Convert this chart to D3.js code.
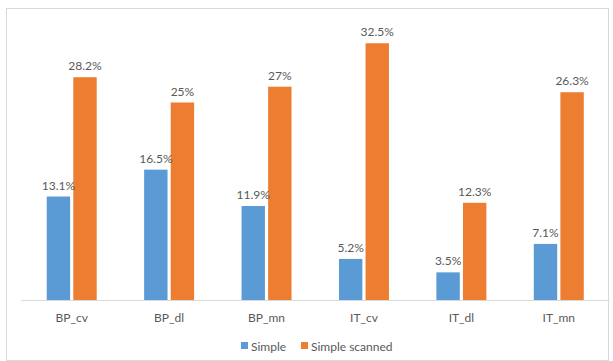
<!DOCTYPE html>
<html>
<head>
<meta charset="utf-8">
<script src="https://cdn.jsdelivr.net/npm/d3@7"></script>
<style>
  html, body { margin: 0; padding: 0; background: #fff; }
  svg { display: block; }
  text { font-family: Lato, "Open Sans", sans-serif; fill: #595959; }
</style>
</head>
<body>
<svg id="chart" width="613" height="361"></svg>
<script>
// Categories and series values (percent)
const categories = ["BP_cv", "BP_dl", "BP_mn", "IT_cv", "IT_dl", "IT_mn"];
const seriesNames = ["Simple", "Simple scanned"];
const simple = [13.1, 16.5, 11.9, 5.2, 3.5, 7.1];
const simpleScanned = [28.2, 25, 27, 32.5, 12.3, 26.3];
const valueLabels = [
  ["13.1%", "16.5%", "11.9%", "5.2%", "3.5%", "7.1%"],
  ["28.2%", "25%", "27%", "32.5%", "12.3%", "26.3%"]
];
const colors = ["#5b9bd5", "#ed7d31"];

const svg = d3.select("#chart");
const W = 613, H = 361;

// Chart area border
svg.append("rect")
  .attr("x", 6.5).attr("y", 8.5)
  .attr("width", 602).attr("height", 352)
  .attr("fill", "#fff")
  .attr("stroke", "#d9d9d9").attr("stroke-width", 1);

const plot = { left: 23, right: 607.5, top: 23.5, bottom: 300 };

const x0 = d3.scaleBand()
  .domain(categories)
  .range([plot.left, plot.right])
  .paddingInner(0.487)
  .paddingOuter(0.2435);

const x1 = d3.scaleBand()
  .domain(seriesNames)
  .range([0, x0.bandwidth()])
  .paddingInner(0.12);

const y = d3.scaleLinear()
  .domain([0, 35])
  .range([plot.bottom, plot.top]);

const data = categories.map((c, i) => ({
  cat: c,
  values: [simple[i], simpleScanned[i]],
  labels: [valueLabels[0][i], valueLabels[1][i]]
}));

const groups = svg.append("g").selectAll("g")
  .data(data)
  .join("g")
  .attr("transform", d => `translate(${x0(d.cat)},0)`);

groups.selectAll("rect")
  .data(d => d.values.map((v, k) => ({ v, k })))
  .join("rect")
  .attr("x", d => x1(seriesNames[d.k]))
  .attr("width", x1.bandwidth())
  .attr("y", d => y(d.v))
  .attr("height", d => y(0) - y(d.v))
  .attr("fill", d => colors[d.k]);

groups.selectAll("text.val")
  .data(d => d.values.map((v, k) => ({ v, k, label: d.labels[k] })))
  .join("text")
  .attr("class", "val")
  .attr("x", d => x1(seriesNames[d.k]) + x1.bandwidth() / 2)
  .attr("y", d => y(d.v) - 7)
  .attr("text-anchor", "middle")
  .attr("font-size", 12)
  .text(d => d.label);

// Category axis
const xAxis = svg.append("g")
  .attr("transform", `translate(0,${plot.bottom})`)
  .call(d3.axisBottom(x0).tickSize(0).tickPadding(0));
xAxis.select(".domain")
  .attr("d", `M${plot.left - 2},0.5H${plot.right + 2}`)
  .attr("stroke", "#d9d9d9");
xAxis.selectAll(".tick text")
  .attr("dy", null)
  .attr("y", 22)
  .attr("font-size", 12)
  .attr("fill", "#595959")
  .style("font-family", "Lato, 'Open Sans', sans-serif");

// Legend
const legendItems = [
  { name: seriesNames[0], x: 241, color: colors[0] },
  { name: seriesNames[1], x: 301, color: colors[1] }
];
const legend = svg.append("g");
legendItems.forEach(it => {
  legend.append("rect")
    .attr("x", it.x).attr("y", 342)
    .attr("width", 7).attr("height", 7)
    .attr("fill", it.color);
  legend.append("text")
    .attr("x", it.x + 10).attr("y", 351)
    .attr("font-size", 12)
    .text(it.name);
});
</script>
</body>
</html>
